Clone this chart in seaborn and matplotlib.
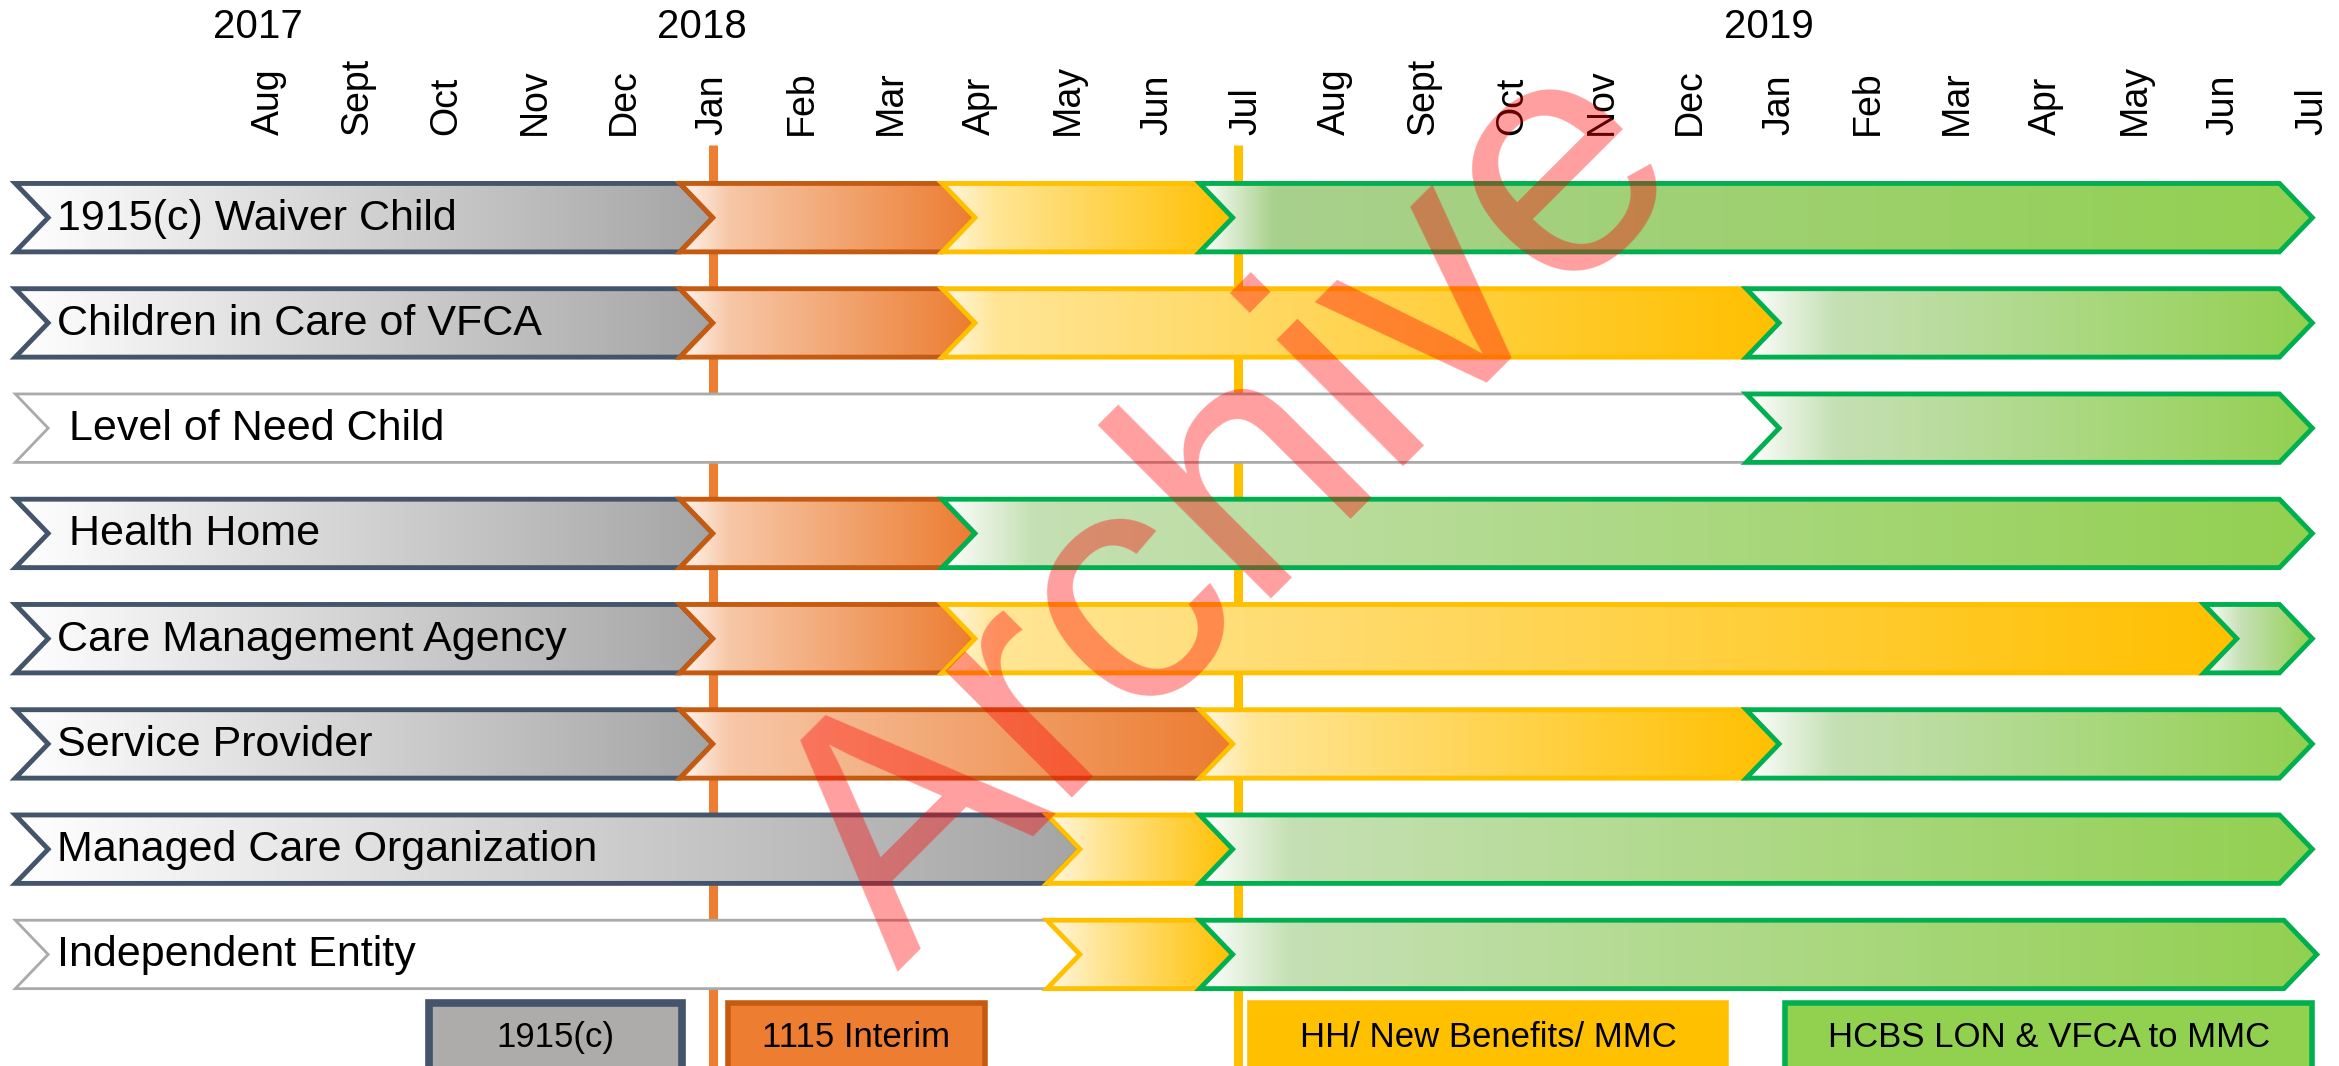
"""Chevron timeline: waiver transition phases, Aug 2017 - Jul 2019."""
import matplotlib
matplotlib.use("Agg")
import matplotlib.pyplot as plt
import matplotlib.colors as mcolors
from matplotlib.patches import Polygon, Rectangle
import numpy as np
import seaborn as sns

sns.set_theme(style="white")
plt.rcParams["font.family"] = ["Liberation Sans", "DejaVu Sans"]
plt.rcParams["text.color"] = "black"

# ---- data -------------------------------------------------------------
MONTHS = ["Aug", "Sept", "Oct", "Nov", "Dec", "Jan", "Feb", "Mar", "Apr",
          "May", "Jun", "Jul", "Aug", "Sept", "Oct", "Nov", "Dec", "Jan",
          "Feb", "Mar", "Apr", "May", "Jun", "Jul"]
YEARS = ["2017", "2018", "2019"]
YEAR_MONTH = [0, 5, 17]          # month index where each year label sits

ROWS = ["1915(c) Waiver Child", "Children in Care of VFCA",
        " Level of Need Child", " Health Home", "Care Management Agency",
        "Service Provider", "Managed Care Organization", "Independent Entity"]

# phase of each chevron in a row, and the month (tip) where it ends
ROW_PHASES = [
    ["1915c", "1115", "hh", "hcbs_deep"],
    ["1915c", "1115", "hh", "hcbs"],
    ["none", "hcbs"],
    ["1915c", "1115", "hcbs"],
    ["1915c", "1115", "hh", "hcbs"],
    ["1915c", "1115", "hh", "hcbs"],
    ["1915c", "hh", "hcbs"],
    ["none", "hh", "hcbs"],
]
ROW_ENDS = [
    [5.0, 7.95, 10.85, 23.0],
    [5.0, 7.95, 17.0, 23.0],
    [17.0, 23.0],
    [5.0, 7.95, 23.0],
    [5.0, 7.95, 22.15, 23.0],
    [5.0, 10.85, 17.0, 23.0],
    [9.13, 10.85, 23.0],
    [9.13, 10.85, 23.05],
]
ROW_START = -2.85

MILESTONES = [5.0, 10.91]        # Jan 2018, Jul 2018
MILESTONE_COLORS = ["#ed7d31", "#ffc000"]

LEGEND_PHASES = ["1915c", "1115", "hh", "hcbs"]
LEGEND_LABELS = ["1915(c)", "1115 Interim", "HH/ New Benefits/ MMC",
                 "HCBS LON & VFCA to MMC"]
LEGEND_SPANS = [(1.81, 4.65), (5.17, 8.06), (11.05, 16.4), (17.07, 23.0)]

# ---- styles -----------------------------------------------------------
# left colour, colour after the glow, right colour, glow length (months)
STYLE = {
    "1915c": dict(c=("#ffffff", "#ffffff", "#a5a5a5"), glow=0.0,
                  edge="#44546a", lw=3.5),
    "1115": dict(c=("#fff6f0", "#f7c7a7", "#ec7c30"), glow=0.55,
                 edge="#c55a11", lw=3.5),
    "hh": dict(c=("#fff8e2", "#ffe595", "#ffc000"), glow=0.6,
               edge="#ffc000", lw=3.5),
    "hcbs": dict(c=("#ffffff", "#c5e0b4", "#92d050"), glow=1.0,
                 edge="#00b050", lw=3.5),
    "hcbs_deep": dict(c=("#ffffff", "#a9d18e", "#92d050"), glow=0.8,
                      edge="#00b050", lw=3.5),
    "none": dict(c=("#ffffff", "#ffffff", "#ffffff"), glow=0.0,
                 edge="#aaaaaa", lw=2.0),
}
LEGEND_FACE = {"1915c": "#aeabab", "1115": "#ed7d31", "hh": "#ffc000",
               "hcbs": "#92d050"}

DEPTH = 0.37   # chevron point depth, months
HALF = 0.325   # half bar height, rows


def gradient(s, t, st):
    xs = np.linspace(s, t, 300)
    c0, c1, c2 = (np.array(mcolors.to_rgb(c)) for c in st["c"])
    g = min(st["glow"], 0.35 * (t - s))
    out = np.empty((1, len(xs), 3))
    for i, x in enumerate(xs):
        u = x - s
        if g > 0 and u < g:
            out[0, i] = c0 + (c1 - c0) * (u / g)
        else:
            f = (u - g) / max(t - s - g, 1e-6)
            out[0, i] = c1 + (c2 - c1) * f
    return out


def chevron(ax, s, t, y, phase, z):
    st = STYLE[phase]
    e = t - DEPTH
    pts = [(s, y - HALF), (e, y - HALF), (t, y), (e, y + HALF),
           (s, y + HALF), (s + DEPTH, y)]
    poly = Polygon(pts, closed=True, facecolor="none", edgecolor=st["edge"],
                   lw=st["lw"], joinstyle="miter", zorder=z + 0.5)
    ax.add_patch(poly)
    img = ax.imshow(gradient(s, t, st), extent=(s, t, y + HALF, y - HALF),
                    aspect="auto", interpolation="bilinear", zorder=z)
    img.set_clip_path(poly)


fig = plt.figure(figsize=(23.39, 10.66), dpi=100)
ax = fig.add_axes([0, 0, 1, 1])
ax.axis("off")

# milestone lines behind everything
for m, col in zip(MILESTONES, MILESTONE_COLORS):
    ax.plot([m, m], [-0.69, 8.2], color=col, lw=6.5, zorder=1,
            solid_capstyle="butt")

# month and year axis labels
for i, name in enumerate(MONTHS):
    ax.text(i, -0.79, name, rotation=90, ha="center", va="bottom",
            fontsize=27, color="black")
for yr, m in zip(YEARS, YEAR_MONTH):
    ax.text(m - 0.12, -1.81, yr, ha="center", va="center", fontsize=29,
            color="black")

# chevron rows
for r, (label, phases, ends) in enumerate(zip(ROWS, ROW_PHASES, ROW_ENDS)):
    start = ROW_START
    for k, (ph, tip) in enumerate(zip(phases, ends)):
        chevron(ax, start, tip, r, ph, z=2 + k)
        start = tip - DEPTH
    ax.text(-2.38, r + 0.01, label, ha="left", va="center", fontsize=31,
            color="black", zorder=20)

# phase key along the bottom
for ph, lab, (x0, x1) in zip(LEGEND_PHASES, LEGEND_LABELS, LEGEND_SPANS):
    lw = 5.5 if ph == "1915c" else 4
    ax.add_patch(Rectangle((x0, 7.46), x1 - x0, 1.0, facecolor=LEGEND_FACE[ph],
                           edgecolor=STYLE[ph]["edge"], lw=lw, zorder=3))
    ax.text((x0 + x1) / 2, 7.79, lab, ha="center", va="center", fontsize=25,
            color="black", zorder=4)

# watermark
ax.text(10.86, 2.8, "Archive", fontsize=243, color="red", alpha=0.38,
        rotation=45, ha="center", va="center", rotation_mode="anchor",
        zorder=50)

ax.set_xlim(-3.022, 23.30)
ax.set_ylim(8.06, -2.068)

fig.savefig("out.png", dpi=100)
plt.close(fig)
